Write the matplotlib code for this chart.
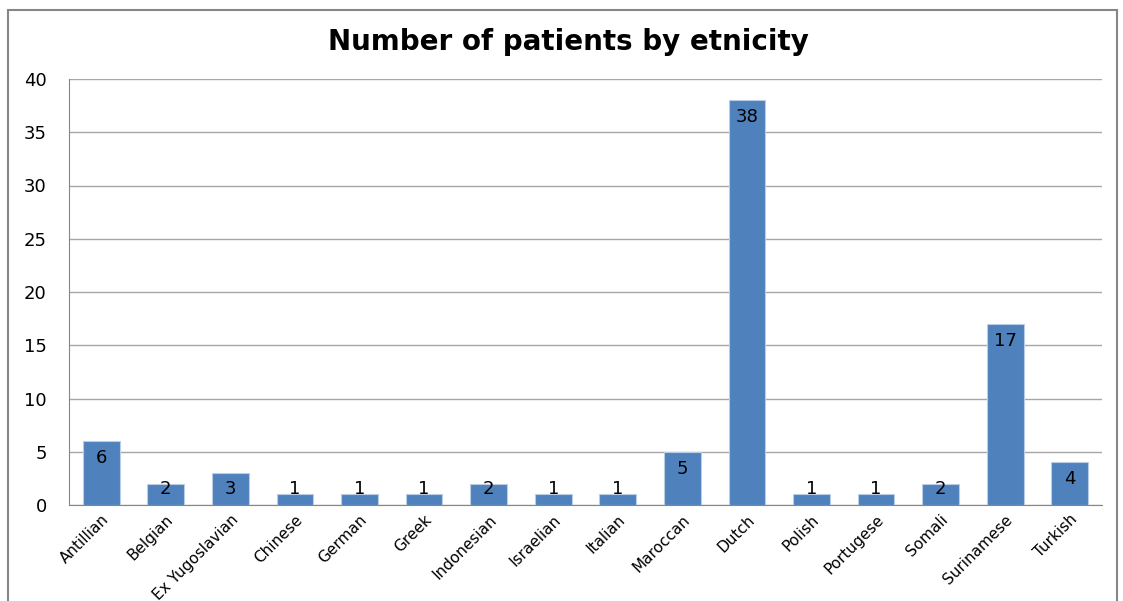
import matplotlib.pyplot as plt
from matplotlib.patches import Rectangle

plt.rcParams['font.family'] = ['DejaVu Sans']

categories = ['Antillian', 'Belgian', 'Ex Yugoslavian', 'Chinese', 'German', 'Greek',
              'Indonesian', 'Israelian', 'Italian', 'Maroccan', 'Dutch', 'Polish',
              'Portugese', 'Somali', 'Surinamese', 'Turkish']
patients = [6, 2, 3, 1, 1, 1, 2, 1, 1, 5, 38, 1, 1, 2, 17, 4]

fig = plt.figure(figsize=(11.23, 6.01), dpi=100)
ax = fig.add_axes([69 / 1123, 1 - 505 / 601, (1102 - 69) / 1123, (505 - 79) / 601])

# outer chart frame
fig.patches.append(Rectangle((8 / 1123, -0.05), (1117 - 8) / 1123, 1.05 - 10 / 601,
                             transform=fig.transFigure, fill=False,
                             edgecolor='#868686', linewidth=1.5))

x = range(len(categories))
bars = ax.bar(x, patients, width=0.57, color='#4F81BD', edgecolor='#B9CDE5', linewidth=0.8, zorder=3)

# labels sit just inside the bar top, but never drop below the baseline area
for b, v in zip(bars, patients):
    ax.text(b.get_x() + b.get_width() / 2, max(v - 1.6, 1.5), str(v),
            ha='center', va='center', fontsize=13, zorder=4)

ax.set_xlim(-0.5, len(categories) - 0.5)
ax.set_ylim(0, 40)
ax.set_yticks(range(0, 41, 5))
ax.yaxis.grid(True, color='#A6A6A6', linewidth=1, zorder=0)
ax.set_xticks(list(x))
ax.set_xticklabels(categories, rotation=45, ha='right', rotation_mode='anchor', fontsize=11)
ax.tick_params(axis='both', length=0)
ax.tick_params(axis='y', pad=16, labelsize=13)
ax.tick_params(axis='x', pad=5)

for s in ['top', 'right']:
    ax.spines[s].set_visible(False)
for s in ['left', 'bottom']:
    ax.spines[s].set_color('#868686')

fig.text(568 / 1123, 1 - 42 / 601, 'Number of patients by etnicity', ha='center', va='center',
         fontsize=20, fontweight='bold')

fig.savefig('out.png', dpi=100)
